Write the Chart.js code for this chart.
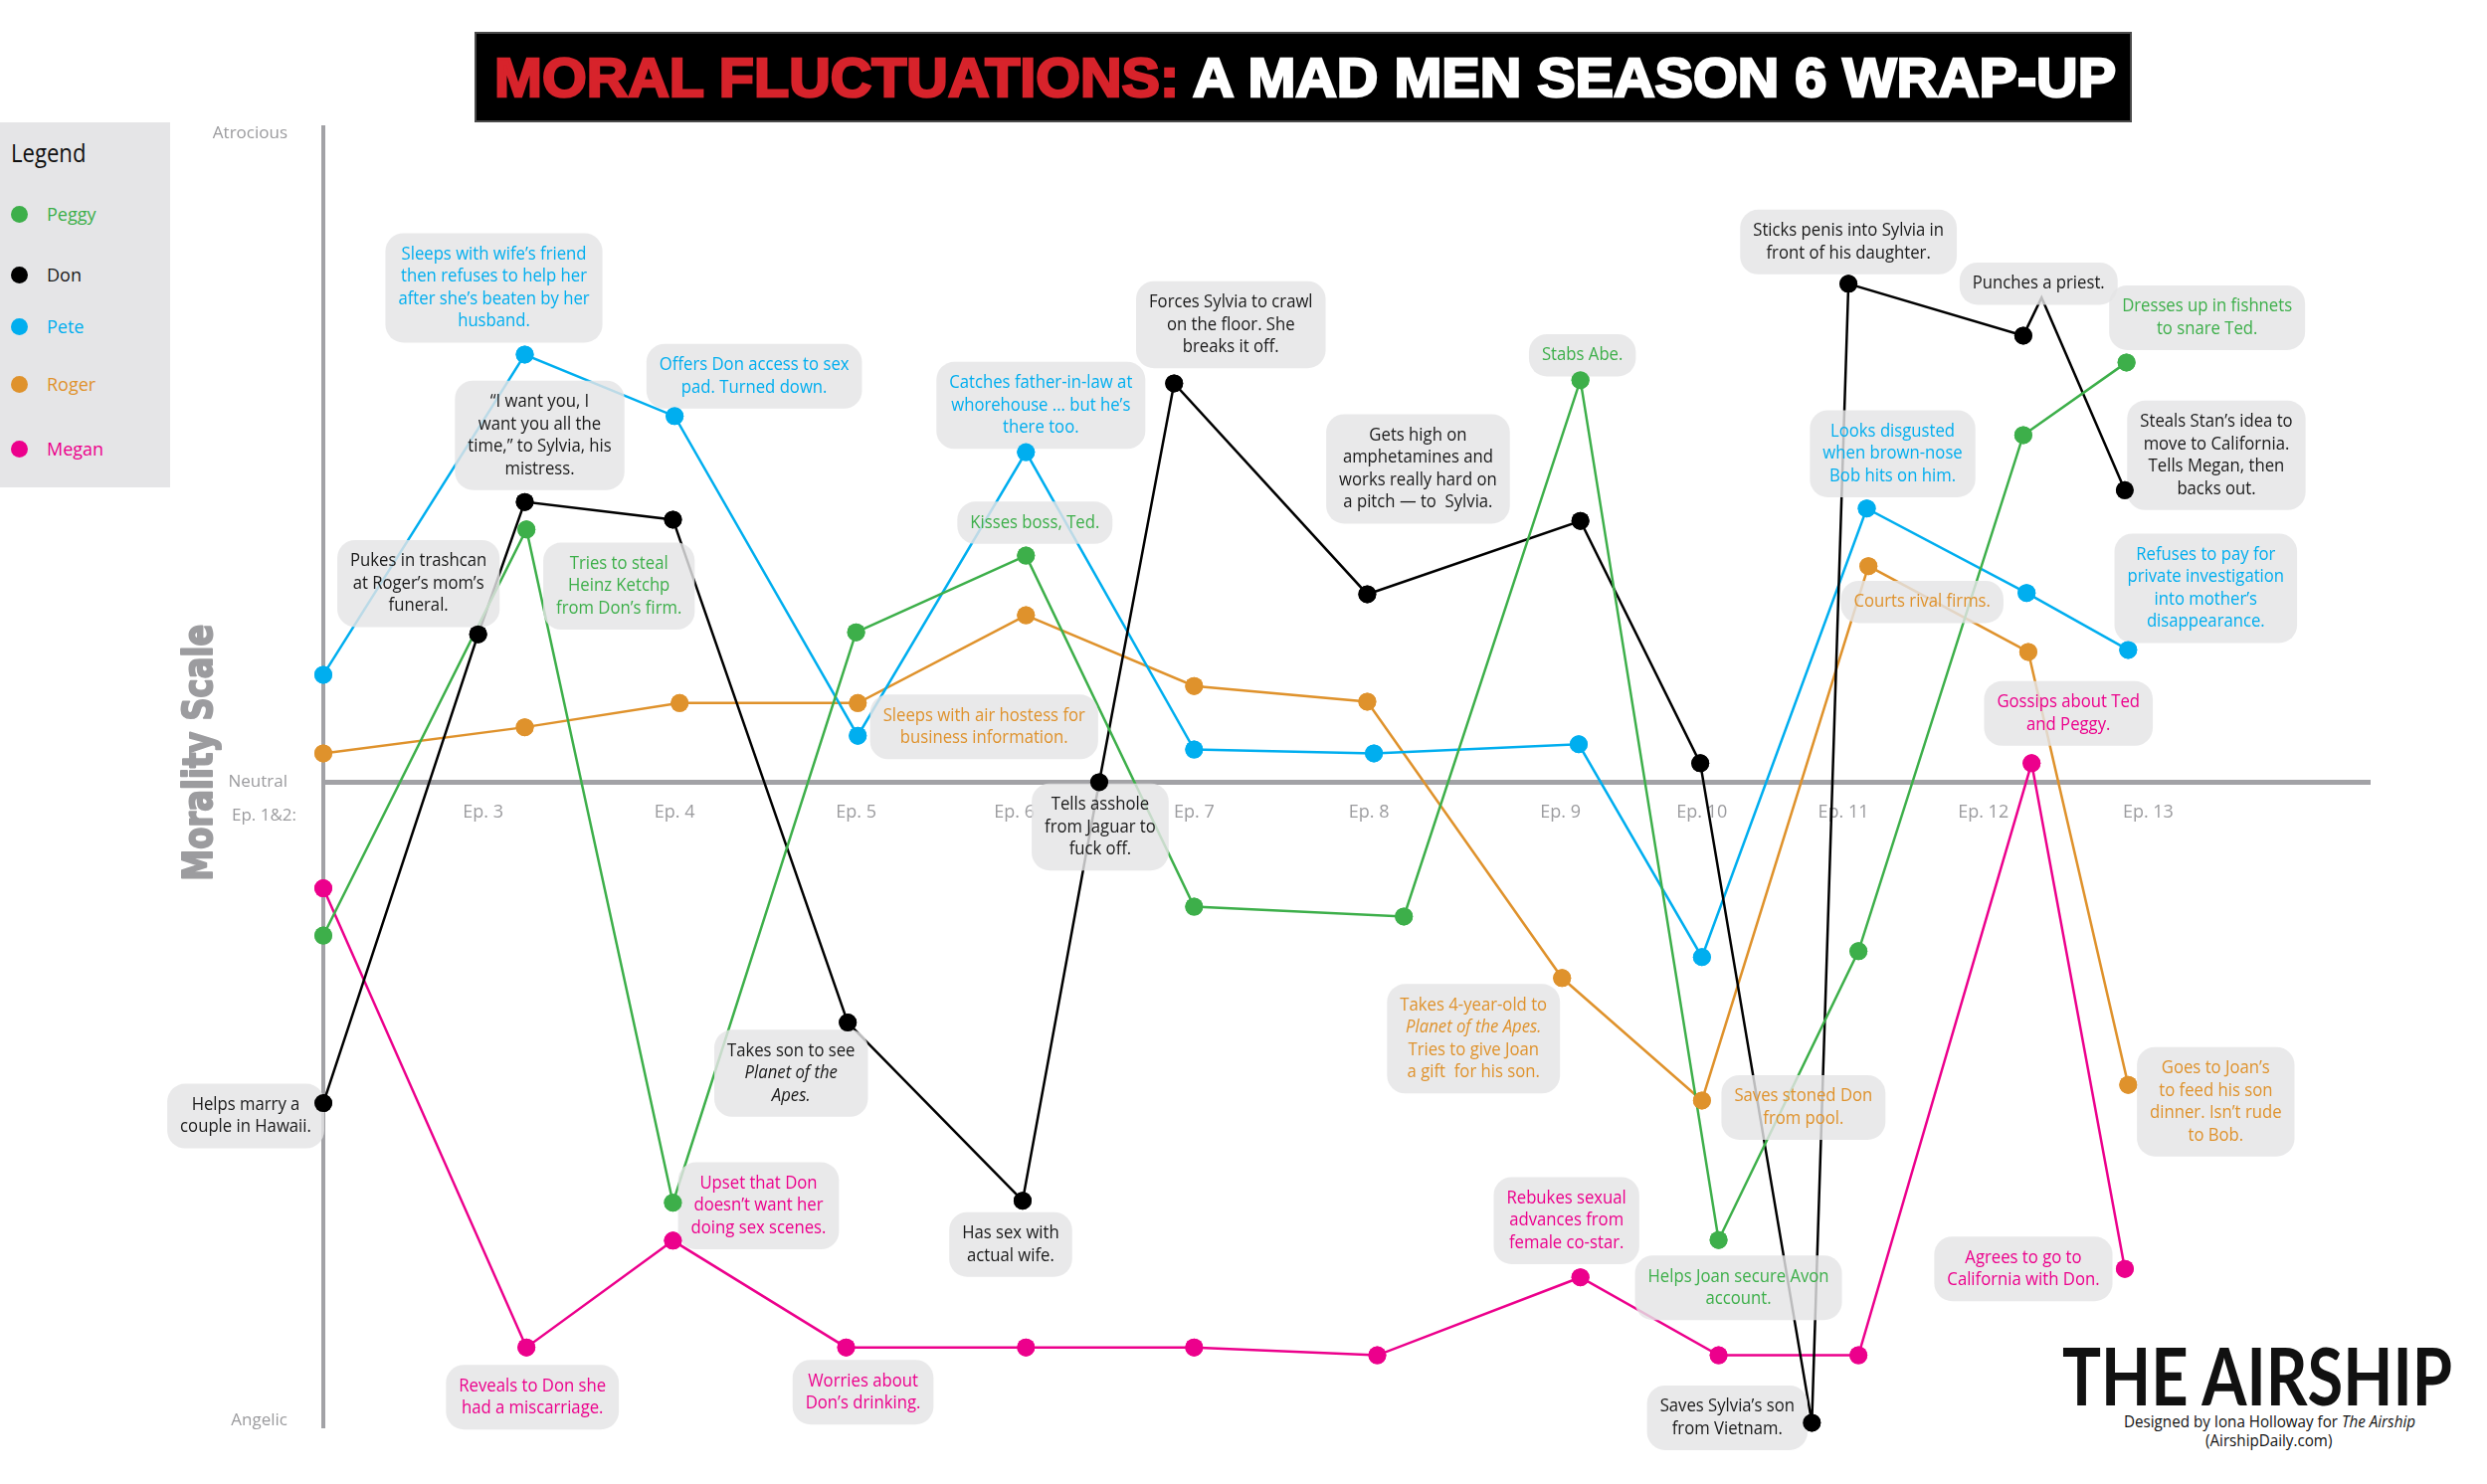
<!DOCTYPE html>
<html>
<head>
<meta charset="utf-8">
<script src="https://cdn.jsdelivr.net/npm/chart.js@4.4.1/dist/chart.umd.min.js"></script>
<style>
    body { margin: 0; background: #fff; width: 2500px; height: 1492px; position: relative; overflow: hidden; font-family: 'Open Sans', sans-serif; }
    #chart { position: absolute; left: 0; top: 0; z-index: 1; }
    #title { position: absolute; left: 477px; top: 32px; width: 1666px; height: 91px; background: #000; border: 2px solid #4a4a4a; box-sizing: border-box; z-index: 2; overflow: hidden; }
    #title-text { position: absolute; left: 18px; top: 50%; white-space: nowrap; transform-origin: left center; font-family: 'Liberation Sans', Arial, sans-serif; font-weight: 900; font-size: 56px; line-height: 56px; margin-top: -28px; -webkit-text-stroke: 2.5px currentColor; }
    #title-text .red { color: #d7232b; }
    #title-text .white { color: #fff; }
    #legend { position: absolute; left: 0; top: 123px; width: 171px; height: 367px; background: #e5e5e7; z-index: 2; }
    #legend h3 { margin: 0; position: absolute; left: 11px; top: 12px; font-family: 'Open Sans', sans-serif; font-weight: 400; font-size: 26px; color: #111; transform: scaleX(0.85); transform-origin: left center; }
    .leg-item { position: absolute; left: 11px; height: 20px; display: flex; align-items: center; font-size: 18px; transform-origin: left center; }
    .leg-dot { width: 17px; height: 17px; border-radius: 50%; margin-right: 19px; }
    #logo { position: absolute; left: 2073px; top: 1341px; z-index: 2; }
    #logo-name { font-family: 'Lato', sans-serif; font-weight: 700; font-size: 81px; line-height: 81px; color: #111; white-space: nowrap; transform-origin: left top; }
    .credit { position: absolute; white-space: nowrap; font-family: 'Open Sans', sans-serif; font-size: 16px; color: #111; transform-origin: left center; }
</style>
</head>
<body>
<div id="title"><div id="title-text"><span class="red">MORAL FLUCTUATIONS:</span><span class="white"> A MAD MEN SEASON 6 WRAP-UP</span></div></div>
<div id="legend"><h3>Legend</h3></div>
<canvas id="chart" width="2500" height="1492"></canvas>
<div id="logo"><div id="logo-name">THE AIRSHIP</div></div>
<div class="credit" id="credit1">Designed by Iona Holloway for <i>The Airship</i></div>
<div class="credit" id="credit2">(AirshipDaily.com)</div>

<script>
// series
const seriesNames = ['Peggy', 'Don', 'Pete', 'Roger', 'Megan'];
const seriesColors = ['#3daf4a', '#000000', '#00aeef', '#df922c', '#ec008c'];
const noteColors = ['#3daf4a', '#1a1a1a', '#00aeef', '#df922c', '#ec008c'];

// x values are positions along the episode timeline, y is the morality score
const peggyX = [2.04, 3.26, 4.14, 5.24, 6.26, 7.27, 8.53, 9.59, 10.42, 11.26, 12.25, 12.87];
const peggyY = [-2.34, 3.86, -6.42, 2.29, 3.46, -1.90, -2.05, 6.14, -6.99, -2.58, 5.30, 6.41];

const donX = [2.04, 2.97, 3.25, 4.14, 5.19, 6.24, 6.70, 7.15, 8.31, 9.59, 10.31, 10.98, 11.20, 12.25, 12.36, 12.86];
const donY = [-4.90, 2.26, 4.28, 4.01, -3.67, -6.39, 0, 6.09, 2.87, 3.99, 0.29, -9.78, 7.61, 6.82, 7.40, 4.46];
const donNoMarker = [14];

const peteX = [2.04, 3.25, 4.15, 5.25, 6.26, 7.27, 8.35, 9.58, 10.32, 11.31, 12.27, 12.88];
const peteY = [1.64, 6.53, 5.59, 0.71, 5.04, 0.50, 0.44, 0.58, -2.67, 4.18, 2.89, 2.02];

const rogerX = [2.04, 3.25, 4.18, 5.25, 6.26, 7.27, 8.31, 9.48, 10.32, 11.32, 12.28, 12.88];
const rogerY = [0.44, 0.84, 1.21, 1.21, 2.55, 1.47, 1.23, -2.99, -4.86, 3.30, 1.99, -4.62];

const meganX = [2.04, 3.26, 4.14, 5.18, 6.26, 7.27, 8.37, 9.59, 10.42, 11.26, 12.30, 12.86];
const meganY = [-1.62, -8.63, -7.00, -8.63, -8.63, -8.63, -8.75, -7.56, -8.75, -8.75, 0.29, -7.43];

const seriesX = [peggyX, donX, peteX, rogerX, meganX];
const seriesY = [peggyY, donY, peteY, rogerY, meganY];

// axes
const epTickPos = [3, 4.15, 5.24, 6.19, 7.27, 8.32, 9.47, 10.32, 11.17, 12.01, 13.0];
const epTickLabels = ['Ep. 3', 'Ep. 4', 'Ep. 5', 'Ep. 6', 'Ep. 7', 'Ep. 8', 'Ep. 9', 'Ep. 10', 'Ep. 11', 'Ep. 12', 'Ep. 13'];
const firstEpLabel = 'Ep. 1&2:';
const moralTickVals = [-9.75, 0, 9.9];
const moralTickLabels = ['Angelic', 'Neutral', 'Atrocious'];
const moralTitle = 'Morality Scale';

// notes: series index, point index, text
const noteS = [2, 1, 2, 2, 1, 0, 1, 1, 1, 0, 2, 1, 1, 0, 0, 3, 1, 2, 3, 4, 1, 1, 4, 1, 4, 4, 3, 3, 3, 4, 0, 4, 1];
const noteI = [1, 2, 2, 4, 7, 7, 8, 12, 14, 11, 9, 15, 1, 1, 4, 3, 6, 11, 9, 10, 0, 4, 2, 5, 1, 3, 7, 8, 11, 7, 8, 11, 11];
const noteText = [
    'Sleeps with wife’s friend\nthen refuses to help her\nafter she’s beaten by her\nhusband.',
    '“I want you, I\nwant you all the\ntime,” to Sylvia, his\nmistress.',
    'Offers Don access to sex\npad. Turned down.',
    'Catches father-in-law at\nwhorehouse ... but he’s\nthere too.',
    'Forces Sylvia to crawl\non the floor. She\nbreaks it off.',
    'Stabs Abe.',
    'Gets high on\namphetamines and\nworks really hard on\na pitch — to  Sylvia.',
    'Sticks penis into Sylvia in\nfront of his daughter.',
    'Punches a priest.',
    'Dresses up in fishnets\nto snare Ted.',
    'Looks disgusted\nwhen brown-nose\nBob hits on him.',
    'Steals Stan’s idea to\nmove to California.\nTells Megan, then\nbacks out.',
    'Pukes in trashcan\nat Roger’s mom’s\nfuneral.',
    'Tries to steal\nHeinz Ketchp\nfrom Don’s firm.',
    'Kisses boss, Ted.',
    'Sleeps with air hostess for\nbusiness information.',
    'Tells asshole\nfrom Jaguar to\nfuck off.',
    'Refuses to pay for\nprivate investigation\ninto mother’s\ndisappearance.',
    'Courts rival firms.',
    'Gossips about Ted\nand Peggy.',
    'Helps marry a\ncouple in Hawaii.',
    'Takes son to see\n*Planet of the*\n*Apes.*',
    'Upset that Don\ndoesn’t want her\ndoing sex scenes.',
    'Has sex with\nactual wife.',
    'Reveals to Don she\nhad a miscarriage.',
    'Worries about\nDon’s drinking.',
    'Takes 4-year-old to\n*Planet of the Apes.*\nTries to give Joan\na gift  for his son.',
    'Saves stoned Don\nfrom pool.',
    'Goes to Joan’s\nto feed his son\ndinner. Isn’t rude\nto Bob.',
    'Rebukes sexual\nadvances from\nfemale co-star.',
    'Helps Joan secure Avon\naccount.',
    'Agrees to go to\nCalifornia with Don.',
    'Saves Sylvia’s son\nfrom Vietnam.'
];
// box centre offset from its point, in px
const noteOffset = [
    [-31, -67], [15, -67], [80, -40], [15, -47], [57, -59], [2, -25], [51, -126], [0, -42], [-3, -14], [81, -45],
    [26, -55], [92, -35], [-60, -51], [93, 57], [9, -33], [127, 24], [1, 45], [78, -62], [54, 36], [37, -50],
    [-78, 13], [-57, 51], [86, -35], [-12, 44], [6, 50], [17, 45], [-89, 61], [102, 7], [88, 17], [-14, -57],
    [20, 48], [-102, 0], [-85, -5]
];

const labelGrey = '#9b9b9e';
const axisGrey = '#a2a2a6';
const noteFamily = "'Liberation Sans Narrow', 'Open Sans', sans-serif";
const noteSize = 18;
const noteLine = 22.5;

function segs(line) {
    return line.split('*').map(function(t, k) { return { t: t, it: k % 2 === 1 }; }).filter(s => s.t.length);
}

function segFont(it) {
    return (it ? 'italic ' : '') + noteSize + 'px ' + noteFamily;
}

function lineWidth(ctx, line) {
    let w = 0;
    segs(line).forEach(function(s) {
        ctx.font = segFont(s.it);
        w += ctx.measureText(s.t).width;
    });
    return w;
}

const notesPlugin = {
    id: 'notes',
    afterDatasetsDraw: function(chart) {
        const ctx = chart.ctx;
        const area = chart.chartArea;
        ctx.save();
        ctx.font = segFont(false);
        const squeeze = 186 / ctx.measureText('Sleeps with wife’s friend').width;

        const boxes = noteText.map(function(text, n) {
            const pt = chart.getDatasetMeta(noteS[n]).data[noteI[n]];
            const lines = text.split('\n');
            const widths = lines.map(l => lineWidth(ctx, l));
            const w = Math.max.apply(null, widths) * squeeze + 26;
            const h = lines.length * noteLine + 20;
            return { cx: pt.x + noteOffset[n][0], cy: pt.y + noteOffset[n][1], w: w, h: h, lines: lines, widths: widths, n: n };
        });

        ctx.fillStyle = 'rgba(228,228,229,0.82)';
        boxes.forEach(function(b) {
            ctx.beginPath();
            ctx.roundRect(b.cx - b.w / 2, b.cy - b.h / 2, b.w, b.h, 18);
            ctx.fill();
        });

        // points stay on top of the boxes
        chart.data.datasets.forEach(function(ds, i) {
            chart.getDatasetMeta(i).data.forEach(p => p.draw(ctx, area));
        });

        ctx.textBaseline = 'middle';
        ctx.textAlign = 'left';
        boxes.forEach(function(b) {
            ctx.fillStyle = noteColors[noteS[b.n]];
            const top = b.cy - b.h / 2 + 10;
            b.lines.forEach(function(line, k) {
                ctx.save();
                ctx.translate(b.cx, top + noteLine * (k + 0.5));
                ctx.scale(squeeze, 1);
                let x = -b.widths[k] / 2;
                segs(line).forEach(function(s) {
                    ctx.font = segFont(s.it);
                    ctx.fillText(s.t, x, 0);
                    x += ctx.measureText(s.t).width;
                });
                ctx.restore();
            });
        });

        // first episode label sits left of the y axis
        ctx.font = "17px 'Open Sans', sans-serif";
        ctx.fillStyle = labelGrey;
        ctx.textAlign = 'right';
        ctx.fillText(firstEpLabel, area.left - 27, chart.scales.y.getPixelForValue(0) + 34);

        // heavy vertical axis title
        ctx.save();
        ctx.font = "bold 40px 'DejaVu Sans', sans-serif";
        const tw = ctx.measureText(moralTitle).width;
        ctx.translate(area.left - 122, chart.scales.y.getPixelForValue(0.45));
        ctx.rotate(-Math.PI / 2);
        ctx.scale(258 / tw, 1);
        ctx.textAlign = 'center';
        ctx.textBaseline = 'middle';
        ctx.fillStyle = '#9c9c9f';
        ctx.strokeStyle = '#9c9c9f';
        ctx.lineWidth = 2;
        ctx.lineJoin = 'round';
        ctx.fillText(moralTitle, 0, 0);
        ctx.strokeText(moralTitle, 0, 0);
        ctx.restore();
        ctx.restore();
    }
};

const datasets = seriesNames.map(function(name, i) {
    return {
        label: name,
        data: seriesX[i].map((x, k) => ({ x: x, y: seriesY[i][k] })),
        borderColor: seriesColors[i],
        backgroundColor: seriesColors[i],
        pointBackgroundColor: seriesColors[i],
        borderWidth: 2.5,
        pointBorderWidth: 0,
        pointRadius: function(c) {
            return (i === 1 && donNoMarker.indexOf(c.dataIndex) >= 0) ? 0 : 9;
        },
        pointHoverRadius: 9,
        tension: 0,
        fill: false,
        clip: false
    };
});

new Chart(document.getElementById('chart'), {
    type: 'line',
    data: { datasets: datasets },
    options: {
        responsive: false,
        animation: false,
        devicePixelRatio: 1,
        events: [],
        layout: { padding: { left: 178, right: 118, top: 128, bottom: 57 } },
        scales: {
            x: {
                type: 'linear',
                min: 2.04,
                max: 14.33,
                position: { y: 0 },
                grid: { display: false },
                border: { display: true, color: axisGrey, width: 5 },
                afterBuildTicks: function(scale) {
                    scale.ticks = epTickPos.map(v => ({ value: v }));
                },
                ticks: {
                    autoSkip: false,
                    maxRotation: 0,
                    padding: 12,
                    color: labelGrey,
                    font: { family: "'Open Sans', sans-serif", size: 18 },
                    callback: function(value, index) { return epTickLabels[index]; }
                }
            },
            y: {
                type: 'linear',
                min: -9.85,
                max: 10,
                grid: { display: false },
                border: { display: true, color: axisGrey, width: 4 },
                afterFit: function(scale) { scale.width = 147; },
                afterBuildTicks: function(scale) {
                    scale.ticks = moralTickVals.map(v => ({ value: v }));
                },
                ticks: {
                    padding: 28,
                    color: labelGrey,
                    font: { family: "'Open Sans', sans-serif", size: 17 },
                    callback: function(value, index) { return moralTickLabels[index]; }
                }
            }
        },
        plugins: {
            legend: { display: false },
            tooltip: { enabled: false }
        }
    },
    plugins: [notesPlugin]
});

// legend
const legendTops = [215, 276, 328, 386, 451];
const legend = document.getElementById('legend');
seriesNames.forEach(function(name, i) {
    const item = document.createElement('div');
    item.className = 'leg-item';
    item.style.top = (legendTops[i] - 123 - 10) + 'px';
    item.style.color = noteColors[i];
    item.innerHTML = '<span class="leg-dot" style="background:' + seriesColors[i] + '"></span><span>' + name + '</span>';
    legend.appendChild(item);
});

function fitWidth(el, target) {
    const w = el.getBoundingClientRect().width;
    el.style.transform = 'scaleX(' + (target / w) + ')';
}

const titleText = document.getElementById('title-text');
titleText.style.display = 'inline-block';
fitWidth(titleText, 1630);

const logoName = document.getElementById('logo-name');
logoName.style.display = 'inline-block';
fitWidth(logoName, 392);

const credit1 = document.getElementById('credit1');
const credit2 = document.getElementById('credit2');
credit1.style.top = '1418px';
credit2.style.top = '1437px';
const c1w = credit1.getBoundingClientRect().width;
const c2w = credit2.getBoundingClientRect().width;
const creditSqueeze = 293 / c1w;
credit1.style.left = (2281 - 293 / 2) + 'px';
credit1.style.transform = 'scaleX(' + creditSqueeze + ')';
credit2.style.left = (2281 - c2w * creditSqueeze / 2) + 'px';
credit2.style.transform = 'scaleX(' + creditSqueeze + ')';
</script>
</body>
</html>
